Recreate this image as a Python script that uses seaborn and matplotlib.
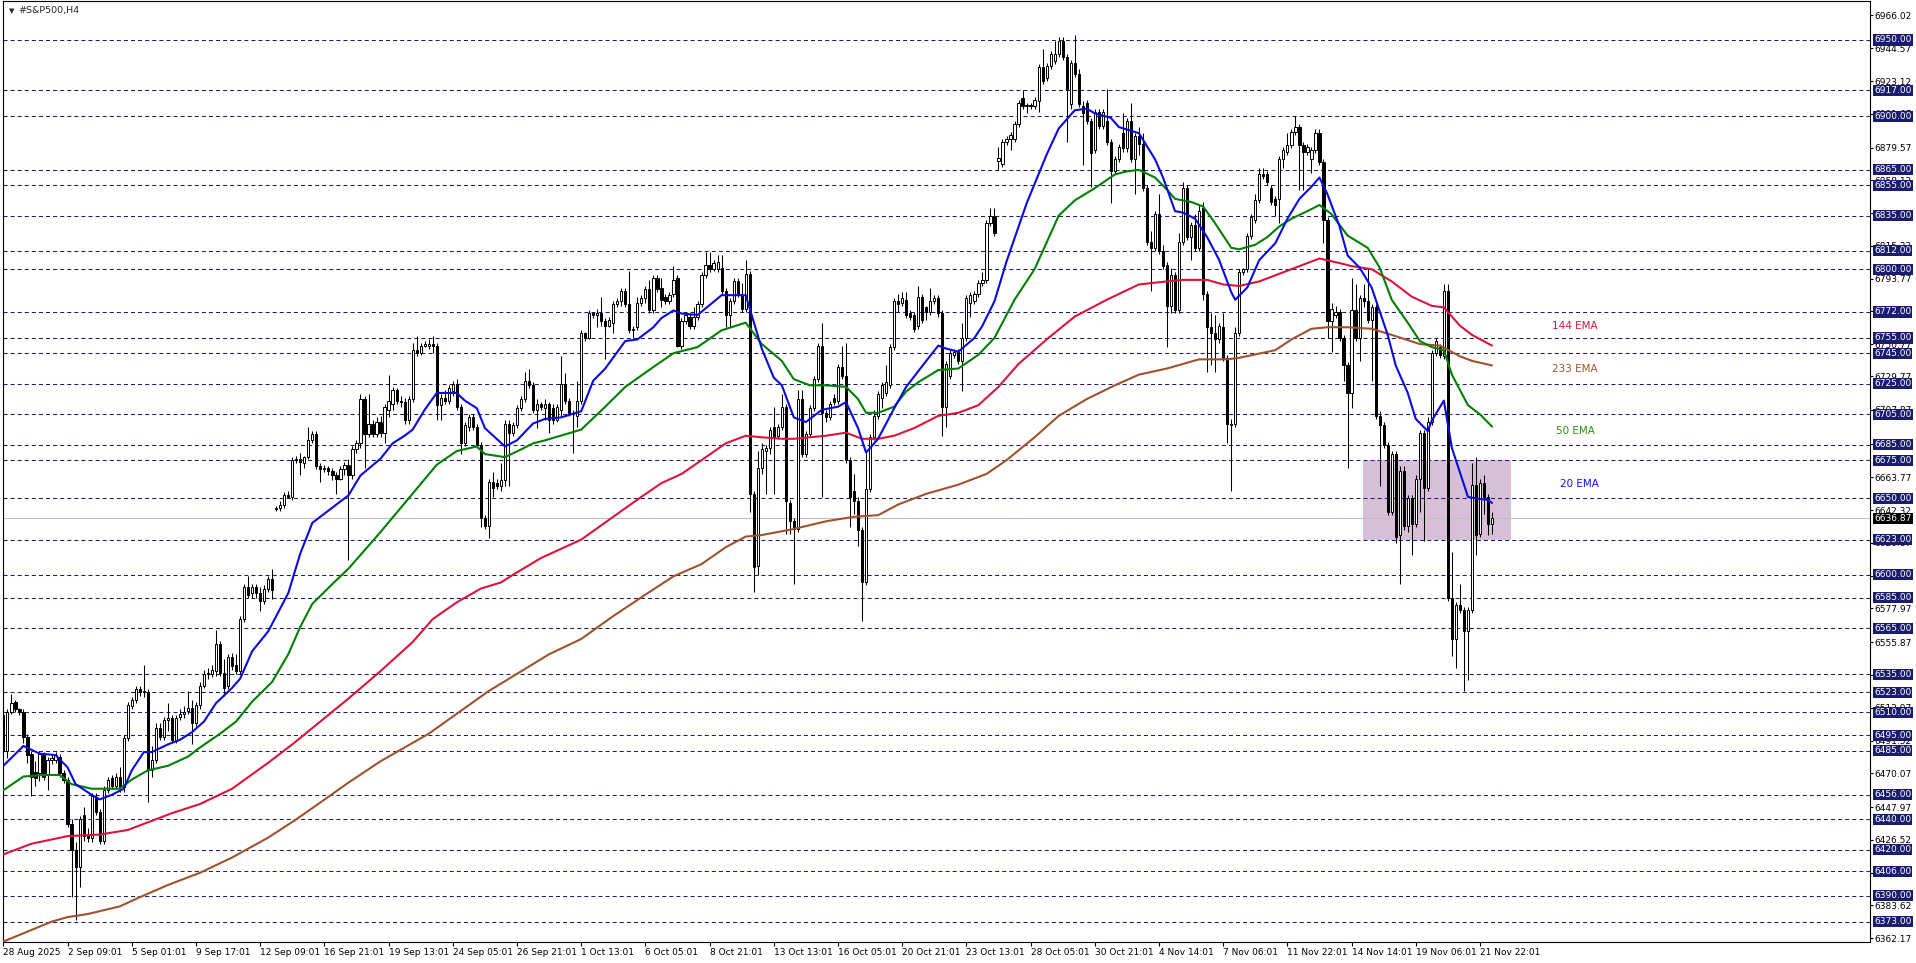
import matplotlib
matplotlib.use('Agg')
import matplotlib.pyplot as plt
import matplotlib.transforms as mtransforms
from matplotlib.patches import Rectangle
import numpy as np
import pandas as pd
import seaborn as sns

sns.set_style("white")
plt.rcParams['font.family'] = ['DejaVu Sans']
plt.rcParams['lines.scale_dashes'] = False

# --- H4 candles (one value per bar) ---
opens = [
    6508, 6485, 6510, 6517, 6512, 6510, 6494, 6483, 6471, 6470,
    6482, 6469, 6479, 6479, 6481, 6470, 6466, 6437, 6420, 6409,
    6443, 6430, 6428, 6454, 6445, 6426, 6459, 6467, 6462, 6468,
    6461, 6493, 6514, 6518, 6525, 6523, 6523, 6472, 6479, 6500,
    6494, 6505, 6506, 6492, 6507, 6509, 6511, 6513, 6503, 6515,
    6527, 6535, 6535, 6537, 6555, 6536, 6527, 6546, 6541, 6537,
    6571, 6592, 6588, 6592, 6588, 6583, 6591, 6597, 6643, 6644,
    6646, 6652, 6651, 6675, 6676, 6673, 6677, 6688, 6692, 6671,
    6669, 6670, 6668, 6665, 6663, 6669, 6672, 6665, 6682, 6686,
    6715, 6692, 6699, 6692, 6700, 6693, 6708, 6712, 6721, 6714,
    6713, 6701, 6715, 6747, 6745, 6750, 6750, 6751, 6750, 6711,
    6716, 6714, 6720, 6725, 6710, 6686, 6697, 6703, 6697, 6685,
    6637, 6632, 6661, 6660, 6658, 6662, 6699, 6693, 6698, 6709,
    6715, 6727, 6724, 6708, 6712, 6709, 6712, 6709, 6701, 6708,
    6725, 6714, 6706, 6704, 6714, 6758, 6755, 6771, 6770, 6771,
    6766, 6763, 6765, 6777, 6779, 6786, 6777, 6760, 6762, 6778,
    6781, 6787, 6773, 6794, 6788, 6782, 6779, 6784, 6794, 6750,
    6766, 6769, 6763, 6769, 6777, 6796, 6803, 6800, 6800, 6801,
    6786, 6770, 6779, 6792, 6784, 6774, 6797, 6653, 6606, 6670,
    6681, 6683, 6697, 6691, 6697, 6710, 6647, 6635, 6630, 6715,
    6679, 6692, 6709, 6728, 6750, 6706, 6703, 6716, 6714, 6736,
    6730, 6675, 6655, 6648, 6629, 6595, 6656, 6690, 6704, 6716,
    6719, 6724, 6749, 6779, 6778, 6780, 6771, 6770, 6763, 6782,
    6775, 6772, 6779, 6781, 6771, 6710, 6730, 6744, 6746, 6740,
    6755, 6778, 6779, 6784, 6791, 6793, 6830, 6835, 6871, 6869,
    6883, 6885, 6885, 6895, 6912, 6907, 6907, 6907, 6910, 6932,
    6925, 6933, 6936, 6941, 6949, 6939, 6908, 6935, 6928, 6907,
    6909, 6897, 6878, 6903, 6894, 6897, 6883, 6864, 6872, 6889,
    6879, 6897, 6872, 6887, 6882, 6853, 6818, 6814, 6836, 6812,
    6803, 6776, 6796, 6773, 6818, 6853, 6821, 6829, 6814, 6840,
    6784, 6762, 6758, 6754, 6762, 6742, 6699, 6699, 6758, 6798,
    6800, 6822, 6832, 6845, 6862, 6862, 6853, 6846, 6846, 6872,
    6877, 6881, 6890, 6893, 6881, 6877, 6872, 6878, 6889, 6870,
    6832, 6766, 6770, 6772, 6755, 6737, 6719, 6773, 6755, 6781,
    6779, 6767, 6775, 6704, 6698, 6685, 6641, 6679, 6626, 6668,
    6632, 6650, 6633, 6663, 6693, 6657, 6700, 6745, 6749, 6743,
    6786, 6585, 6558, 6580, 6577, 6563, 6577, 6659, 6627, 6660,
    6651, 6633,
]
highs = [
    6512, 6512, 6522, 6518, 6513, 6512, 6496, 6485, 6478, 6485,
    6484, 6481, 6482, 6484, 6483, 6472, 6468, 6440, 6425, 6442,
    6448, 6434, 6457, 6457, 6447, 6462, 6468, 6469, 6470, 6474,
    6495, 6517, 6520, 6527, 6527, 6541, 6525, 6488, 6503, 6503,
    6507, 6516, 6508, 6508, 6512, 6514, 6524, 6518, 6517, 6530,
    6538, 6539, 6541, 6564, 6557, 6545, 6548, 6549, 6548, 6573,
    6594, 6599, 6594, 6594, 6592, 6593, 6599, 6604, 6645, 6648,
    6654, 6655, 6677, 6678, 6680, 6678, 6697, 6694, 6694, 6673,
    6672, 6671, 6670, 6667, 6671, 6674, 6676, 6684, 6688, 6718,
    6717, 6718, 6701, 6703, 6704, 6712, 6731, 6723, 6722, 6717,
    6716, 6717, 6752, 6756, 6752, 6753, 6754, 6756, 6752, 6718,
    6721, 6724, 6727, 6728, 6712, 6700, 6705, 6705, 6699, 6687,
    6639, 6663, 6667, 6663, 6673, 6701, 6701, 6700, 6711, 6717,
    6733, 6735, 6726, 6715, 6713, 6715, 6713, 6712, 6712, 6743,
    6732, 6716, 6708, 6727, 6760, 6759, 6773, 6772, 6774, 6782,
    6768, 6769, 6779, 6781, 6788, 6788, 6799, 6763, 6782, 6783,
    6789, 6793, 6796, 6796, 6794, 6784, 6785, 6802, 6796, 6768,
    6772, 6771, 6775, 6779, 6798, 6811, 6811, 6806, 6809, 6809,
    6788, 6781, 6794, 6794, 6791, 6806, 6799, 6655, 6681, 6686,
    6685, 6697, 6710, 6699, 6718, 6712, 6649, 6637, 6721, 6721,
    6694, 6711, 6730, 6752, 6765, 6708, 6714, 6718, 6738, 6750,
    6752, 6677, 6666, 6651, 6631, 6680, 6692, 6708, 6720, 6726,
    6737, 6751, 6781, 6784, 6785, 6785, 6773, 6772, 6789, 6784,
    6776, 6788, 6783, 6783, 6773, 6740, 6747, 6748, 6748, 6765,
    6783, 6785, 6786, 6793, 6798, 6832, 6840, 6840, 6880, 6885,
    6887, 6890, 6897, 6911, 6917, 6909, 6909, 6913, 6934, 6944,
    6935, 6943, 6949, 6952, 6952, 6941, 6937, 6953, 6931, 6910,
    6911, 6899, 6905, 6905, 6905, 6918, 6885, 6874, 6882, 6902,
    6899, 6909, 6889, 6893, 6889, 6855, 6825, 6838, 6849, 6816,
    6805, 6801, 6798, 6824, 6857, 6855, 6831, 6836, 6842, 6844,
    6786, 6771, 6770, 6765, 6771, 6744, 6702, 6762, 6800, 6801,
    6824, 6836, 6849, 6866, 6866, 6864, 6855, 6848, 6874, 6880,
    6889, 6892, 6900, 6895, 6883, 6882, 6880, 6892, 6892, 6872,
    6834, 6778, 6776, 6774, 6757, 6739, 6794, 6790, 6783, 6790,
    6801, 6777, 6777, 6707, 6700, 6687, 6681, 6681, 6671, 6671,
    6652, 6652, 6665, 6695, 6695, 6703, 6747, 6755, 6751, 6790,
    6790, 6615, 6582, 6594, 6579, 6579, 6673, 6677, 6663, 6665,
    6653, 6641,
]
lows = [
    6482, 6480, 6509, 6510, 6508, 6490, 6477, 6455, 6462, 6465,
    6466, 6459, 6476, 6477, 6468, 6464, 6435, 6389, 6374, 6396,
    6426, 6425, 6425, 6443, 6424, 6424, 6457, 6460, 6460, 6458,
    6458, 6491, 6512, 6516, 6521, 6520, 6451, 6468, 6477, 6492,
    6492, 6498, 6490, 6490, 6505, 6506, 6509, 6489, 6500, 6512,
    6526, 6532, 6533, 6534, 6534, 6521, 6525, 6538, 6535, 6535,
    6569, 6585, 6585, 6585, 6576, 6581, 6589, 6584, 6642, 6642,
    6644, 6650, 6649, 6673, 6665, 6670, 6676, 6686, 6669, 6661,
    6667, 6665, 6662, 6653, 6662, 6665, 6610, 6663, 6680, 6683,
    6670, 6690, 6690, 6690, 6690, 6686, 6703, 6708, 6712, 6710,
    6699, 6699, 6713, 6743, 6744, 6749, 6748, 6745, 6701, 6701,
    6712, 6712, 6717, 6708, 6679, 6684, 6694, 6695, 6683, 6631,
    6630, 6624, 6651, 6656, 6655, 6658, 6658, 6691, 6696, 6707,
    6713, 6722, 6706, 6696, 6708, 6701, 6693, 6699, 6700, 6703,
    6712, 6704, 6680, 6697, 6712, 6753, 6754, 6768, 6762, 6763,
    6741, 6762, 6758, 6775, 6776, 6775, 6758, 6755, 6760, 6776,
    6778, 6771, 6771, 6785, 6775, 6777, 6777, 6782, 6749, 6748,
    6764, 6761, 6761, 6767, 6775, 6794, 6798, 6799, 6798, 6784,
    6762, 6762, 6777, 6782, 6772, 6772, 6641, 6589, 6600, 6666,
    6653, 6679, 6653, 6689, 6695, 6627, 6627, 6594, 6628, 6677,
    6677, 6690, 6707, 6726, 6651, 6700, 6701, 6711, 6712, 6728,
    6673, 6631, 6640, 6619, 6570, 6593, 6654, 6688, 6702, 6709,
    6717, 6722, 6747, 6772, 6776, 6768, 6767, 6759, 6761, 6765,
    6767, 6770, 6777, 6769, 6691, 6697, 6728, 6742, 6738, 6720,
    6753, 6769, 6777, 6782, 6789, 6791, 6828, 6822, 6865, 6867,
    6881, 6878, 6883, 6893, 6905, 6902, 6905, 6905, 6903, 6921,
    6923, 6931, 6934, 6939, 6937, 6883, 6905, 6926, 6906, 6868,
    6895, 6854, 6876, 6892, 6892, 6881, 6843, 6862, 6870, 6877,
    6877, 6870, 6849, 6875, 6851, 6816, 6786, 6812, 6810, 6800,
    6749, 6771, 6771, 6771, 6816, 6819, 6806, 6812, 6812, 6780,
    6733, 6737, 6733, 6752, 6740, 6686, 6655, 6697, 6756, 6796,
    6798, 6820, 6830, 6843, 6859, 6855, 6842, 6835, 6830, 6866,
    6875, 6879, 6888, 6852, 6852, 6875, 6863, 6876, 6868, 6817,
    6755, 6746, 6768, 6753, 6727, 6670, 6709, 6753, 6740, 6775,
    6765, 6727, 6702, 6658, 6683, 6639, 6639, 6621, 6594, 6629,
    6628, 6613, 6631, 6641, 6622, 6655, 6698, 6743, 6742, 6741,
    6583, 6547, 6539, 6575, 6524, 6531, 6575, 6613, 6625, 6640,
    6626, 6627,
]
closes = [
    6485, 6510, 6516, 6512, 6510, 6494, 6482, 6468, 6467, 6483,
    6468, 6479, 6480, 6482, 6470, 6466, 6437, 6420, 6409, 6440,
    6429, 6428, 6455, 6445, 6426, 6459, 6466, 6462, 6468, 6461,
    6493, 6515, 6518, 6525, 6523, 6524, 6472, 6479, 6500, 6494,
    6505, 6506, 6492, 6506, 6509, 6510, 6513, 6503, 6515, 6527,
    6535, 6536, 6538, 6555, 6536, 6526, 6546, 6540, 6537, 6571,
    6592, 6587, 6592, 6588, 6583, 6591, 6597, 6590, 6644, 6646,
    6652, 6651, 6675, 6676, 6674, 6677, 6688, 6692, 6671, 6669,
    6670, 6668, 6665, 6663, 6669, 6672, 6665, 6682, 6686, 6715,
    6692, 6699, 6692, 6700, 6693, 6710, 6714, 6721, 6714, 6713,
    6701, 6715, 6747, 6745, 6750, 6751, 6751, 6750, 6711, 6716,
    6714, 6722, 6725, 6710, 6686, 6698, 6703, 6697, 6685, 6637,
    6632, 6661, 6657, 6658, 6662, 6699, 6693, 6698, 6709, 6715,
    6727, 6724, 6708, 6712, 6710, 6712, 6701, 6701, 6710, 6725,
    6714, 6706, 6705, 6714, 6758, 6755, 6771, 6770, 6771, 6766,
    6763, 6767, 6777, 6779, 6786, 6777, 6760, 6761, 6778, 6781,
    6787, 6773, 6794, 6787, 6780, 6779, 6783, 6793, 6750, 6766,
    6770, 6763, 6769, 6777, 6796, 6803, 6800, 6804, 6805, 6786,
    6770, 6779, 6792, 6784, 6774, 6797, 6653, 6605, 6670, 6682,
    6683, 6695, 6690, 6697, 6710, 6648, 6635, 6630, 6715, 6679,
    6692, 6709, 6728, 6750, 6706, 6703, 6712, 6713, 6736, 6730,
    6675, 6651, 6648, 6629, 6595, 6656, 6690, 6704, 6718, 6724,
    6726, 6749, 6779, 6777, 6781, 6770, 6769, 6761, 6782, 6767,
    6772, 6779, 6781, 6771, 6710, 6738, 6745, 6746, 6740, 6755,
    6781, 6783, 6784, 6791, 6793, 6830, 6835, 6824, 6873, 6883,
    6885, 6888, 6895, 6909, 6907, 6907, 6907, 6911, 6932, 6923,
    6933, 6941, 6941, 6949, 6939, 6918, 6935, 6928, 6908, 6902,
    6897, 6876, 6903, 6894, 6903, 6883, 6864, 6872, 6880, 6879,
    6897, 6872, 6887, 6882, 6853, 6818, 6814, 6836, 6812, 6802,
    6776, 6796, 6773, 6818, 6853, 6821, 6829, 6814, 6838, 6784,
    6762, 6758, 6754, 6763, 6742, 6699, 6698, 6758, 6798, 6800,
    6822, 6834, 6845, 6862, 6861, 6857, 6844, 6842, 6872, 6878,
    6881, 6890, 6893, 6881, 6877, 6880, 6878, 6889, 6870, 6832,
    6766, 6774, 6772, 6755, 6737, 6719, 6773, 6755, 6781, 6779,
    6767, 6775, 6704, 6698, 6685, 6641, 6679, 6625, 6668, 6632,
    6650, 6633, 6663, 6693, 6657, 6700, 6745, 6753, 6744, 6786,
    6585, 6558, 6580, 6577, 6563, 6577, 6659, 6626, 6660, 6651,
    6633, 6636.87,
]

# moving averages, read at selected bars (bar index, price)
ema20_x = [0, 5, 9, 13, 16, 18, 22, 24, 27, 30, 32, 35, 37, 41, 44, 47, 50, 53, 57, 59,
           62, 66, 71, 74, 77, 81, 86, 89, 94, 97, 100, 102, 105, 108, 110, 113, 115, 118,
           120, 125, 128, 132, 135, 139, 144, 147, 150, 155, 158, 162, 164, 167, 169, 173,
           179, 185, 189, 192, 194, 197, 200, 204, 208, 210, 213, 215, 218, 222, 225, 230,
           233, 235, 238, 242, 244, 247, 250, 255, 260, 263, 267, 270, 272, 276, 278, 283,
           287, 289, 292, 294, 297, 300, 303, 306, 307, 310, 313, 317, 320, 323, 326, 328,
           330, 333, 335, 338, 341, 345, 347, 350, 352, 355, 356, 359, 361, 365, 367, 370, 371]
ema20_y = [6475, 6488, 6483, 6482, 6474, 6463, 6456, 6453, 6456, 6460, 6472, 6484, 6484,
           6489, 6492, 6497, 6504, 6516, 6526, 6532, 6550, 6563, 6588, 6614, 6634, 6642,
           6652, 6665, 6676, 6686, 6691, 6695, 6708, 6719, 6719, 6719, 6714, 6709, 6696,
           6684, 6688, 6699, 6702, 6703, 6707, 6727, 6735, 6753, 6754, 6762, 6768, 6773,
           6771, 6770, 6783, 6783, 6748, 6729, 6724, 6703, 6700, 6708, 6710, 6713, 6696,
           6680, 6689, 6709, 6723, 6740, 6750, 6748, 6746, 6755, 6763, 6779, 6805, 6843,
           6875, 6892, 6904, 6905, 6902, 6899, 6893, 6889, 6872, 6860, 6838, 6837, 6833,
           6821, 6806, 6785, 6780, 6788, 6806, 6817, 6833, 6846, 6854, 6860, 6849, 6828,
           6809, 6801, 6788, 6757, 6737, 6719, 6702, 6694, 6701, 6714, 6683, 6651, 6650,
           6649, 6647]

ema50_x = [0, 5, 10, 14, 17, 22, 29, 32, 36, 41, 46, 49, 54, 58, 62, 67, 71, 74, 77, 82,
           86, 91, 94, 101, 108, 113, 118, 120, 125, 129, 132, 135, 144, 150, 155, 162, 167,
           173, 179, 185, 189, 194, 197, 201, 205, 210, 213, 215, 218, 222, 225, 228, 233,
           238, 243, 247, 252, 257, 263, 267, 272, 277, 280, 283, 287, 290, 292, 296, 299,
           302, 306, 308, 312, 315, 318, 321, 325, 328, 331, 335, 340, 343, 346, 350, 353,
           356, 359, 361, 365, 368, 371]
ema50_y = [6459, 6468, 6469, 6469, 6463, 6460, 6460, 6466, 6472, 6475, 6481, 6487, 6496,
           6504, 6517, 6530, 6548, 6566, 6581, 6594, 6604, 6619, 6628, 6650, 6672, 6681,
           6684, 6679, 6677, 6682, 6686, 6688, 6695, 6710, 6723, 6736, 6745, 6749, 6760,
           6765, 6751, 6740, 6728, 6724, 6724, 6723, 6715, 6706, 6706, 6710, 6720, 6726,
           6734, 6735, 6744, 6755, 6780, 6800, 6835, 6845, 6853, 6862, 6864, 6865, 6860,
           6852, 6846, 6844, 6841, 6830, 6814, 6813, 6816, 6821, 6828, 6833, 6838, 6842,
           6836, 6822, 6814, 6801, 6780, 6765, 6753, 6749, 6747, 6731, 6711, 6705, 6697]

ema144_x = [0, 7, 16, 24, 31, 36, 42, 49, 57, 66, 72, 79, 86, 94, 102, 107,
            113, 119, 124, 127, 134, 144, 152, 159, 164, 169, 174, 180, 185, 189, 194, 197,
            205, 210, 214, 218, 222, 227, 233, 238, 243, 248, 253, 260, 267, 275, 283, 290,
            294, 300, 304, 308, 313, 318, 323, 328, 333, 336, 341, 346, 351, 356, 359, 363,
            366, 371]
ema144_y = [6417, 6424, 6429, 6430, 6433, 6438, 6444, 6450, 6460, 6477, 6489, 6504,
            6519, 6537, 6556, 6571, 6582, 6591, 6595, 6600, 6611, 6623, 6638,
            6651, 6660, 6666, 6675, 6686, 6691, 6690, 6689, 6689, 6691, 6693, 6689, 6689,
            6691, 6696, 6704, 6706, 6711, 6723, 6738, 6754, 6769, 6780, 6790, 6792, 6793,
            6793, 6790, 6789, 6792, 6797, 6802, 6807, 6804, 6802, 6800, 6792, 6782, 6776,
            6775, 6763, 6757, 6750]

ema233_x = [0, 12, 16, 21, 29, 34, 41, 49, 57, 66, 73, 79, 86, 94, 106, 121, 136, 144, 152,
            160, 167, 174, 180, 185, 189, 197, 205, 212, 218, 223, 230, 238, 245, 250, 257,
            263, 270, 277, 283, 290, 298, 305, 308, 317, 321, 326, 330, 335, 341, 346, 353,
            358, 363, 366, 371]
ema233_y = [6360, 6373, 6376, 6378, 6383, 6389, 6397, 6405, 6415, 6428, 6440, 6451, 6464,
            6478, 6496, 6524, 6548, 6558, 6573, 6587, 6599, 6607, 6618, 6625, 6626, 6630,
            6635, 6638, 6639, 6646, 6653, 6659, 6666, 6675, 6690, 6704, 6715, 6724, 6731,
            6735, 6741, 6741, 6742, 6747, 6754, 6761, 6762, 6762, 6761, 6757, 6751, 6750,
            6743, 6740, 6737]

# horizontal levels drawn on the chart
levels = [6950, 6917, 6900, 6865, 6855, 6835, 6812, 6800, 6772, 6755, 6745, 6725, 6705,
          6685, 6675, 6650, 6623, 6600, 6585, 6565, 6535, 6523, 6510, 6495, 6485, 6456,
          6440, 6420, 6406, 6390, 6373]
price_ticks = [6966.02, 6944.57, 6923.12, 6901.67, 6879.57, 6858.12, 6836.67, 6815.22,
               6793.77, 6772.32, 6750.77, 6729.77, 6707.87, 6685.77, 6663.77, 6642.32,
               6620.87, 6599.42, 6577.97, 6555.87, 6534.42, 6512.97, 6491.52, 6470.07,
               6447.97, 6426.52, 6405.07, 6383.62, 6362.17]
date_labels = ['28 Aug 2025', '2 Sep 09:01', '5 Sep 01:01', '9 Sep 17:01', '12 Sep 09:01',
               '16 Sep 21:01', '19 Sep 13:01', '24 Sep 05:01', '26 Sep 21:01', '1 Oct 13:01',
               '6 Oct 05:01', '8 Oct 21:01', '13 Oct 13:01', '16 Oct 05:01', '20 Oct 21:01',
               '23 Oct 13:01', '28 Oct 05:01', '30 Oct 21:01', '4 Nov 14:01', '7 Nov 06:01',
               '11 Nov 22:01', '14 Nov 14:01', '19 Nov 06:01', '21 Nov 22:01']
last_price = 6636.87
zone_low, zone_high = 6623, 6675

df = pd.DataFrame({'open': opens, 'high': highs, 'low': lows, 'close': closes})
df['bar'] = np.arange(len(df))
up = df['close'] >= df['open']

NAVY = '#1c1c6e'
W, H = 1916, 963
fig = plt.figure(figsize=(W / 100, H / 100), dpi=100)
ax = fig.add_axes([2.7 / W, 21 / H, (1870 - 2.7) / W, 941 / H])
ax.set_xlim(-0.17, 465.2)
ax.set_ylim(6359.7, 6975.5)

# support/resistance zone
ax.add_patch(Rectangle((338.8, zone_low), 36.9, zone_high - zone_low,
                       facecolor='#d8bfd8', edgecolor='none', zorder=0.5))

for lv in levels:
    ax.axhline(lv, color=NAVY, lw=0.75, linestyle=(0, (2.9, 2.2)), zorder=1)
ax.axhline(last_price, color='#c0c0c0', lw=0.8, zorder=1)

# candles
ax.vlines(df['bar'], df['low'], df['high'], color='black', lw=0.75, zorder=3)
body_lo = np.minimum(df['open'], df['close'])
body_h = np.maximum((df['close'] - df['open']).abs(), 0.35)
ax.bar(df['bar'], body_h, bottom=body_lo, width=0.55,
       color=np.where(up, 'white', 'black'), edgecolor='black', linewidth=0.7, zorder=4)

# EMAs
sns.lineplot(x=ema233_x, y=ema233_y, ax=ax, color='#a0522d', linewidth=1.5, zorder=5)
sns.lineplot(x=ema144_x, y=ema144_y, ax=ax, color='#dc143c', linewidth=1.5, zorder=5)
sns.lineplot(x=ema50_x, y=ema50_y, ax=ax, color='#008000', linewidth=1.5, zorder=5)
sns.lineplot(x=ema20_x, y=ema20_y, ax=ax, color='#0a0ae0', linewidth=1.5, zorder=5)

ax.text(391.7, 6762.8, '144 EMA', color='#dc143c', fontsize=7.5, ha='center', va='center')
ax.text(391.7, 6734.7, '233 EMA', color='#a0522d', fontsize=7.5, ha='center', va='center')
ax.text(391.9, 6694.3, '50 EMA', color='#2e8b10', fontsize=7.5, ha='center', va='center')
ax.text(392.8, 6659.6, '20 EMA', color='#1010e0', fontsize=7.5, ha='center', va='center')

# title
ax.text(0.0034, 0.9894, '\u25bc', transform=ax.transAxes, fontsize=5, ha='left', va='center')
ax.text(0.0085, 0.9894, '#S&P500,H4', transform=ax.transAxes, fontsize=6.8,
        ha='left', va='center')

# price scale on the right
ax.yaxis.set_ticks_position('right')
ax.set_yticks(price_ticks)
ax.set_yticklabels([f'{v:.2f}' for v in price_ticks])
ax.tick_params(axis='y', right=True, left=False, direction='out', length=2.5,
               width=0.8, pad=1, labelsize=6.5, colors='black')
trans = mtransforms.blended_transform_factory(ax.transAxes, ax.transData)
for lv in levels:
    ax.text(1.0022, lv, f'{lv:.2f}', transform=trans, ha='left', va='center',
            fontsize=6.5, color='white', clip_on=False, zorder=10,
            bbox=dict(boxstyle='square,pad=0.12', fc=NAVY, ec='none'))
ax.text(1.0022, last_price, f'{last_price:.2f}', transform=trans, ha='left', va='center',
        fontsize=6.5, color='white', clip_on=False, zorder=11,
        bbox=dict(boxstyle='square,pad=0.12', fc='black', ec='none'))

# time scale
ax.set_xticks(np.arange(len(date_labels)) * 16)
ax.set_xticklabels(date_labels, ha='left')
ax.tick_params(axis='x', bottom=True, direction='out', length=3, width=0.8, pad=1.5,
               labelsize=6.5, colors='black')
ax.set_xlabel('')
ax.set_ylabel('')

for sp in ax.spines.values():
    sp.set_visible(True)
    sp.set_color('black')
    sp.set_linewidth(0.8)

fig.savefig('out.png', dpi=100, facecolor='white')
